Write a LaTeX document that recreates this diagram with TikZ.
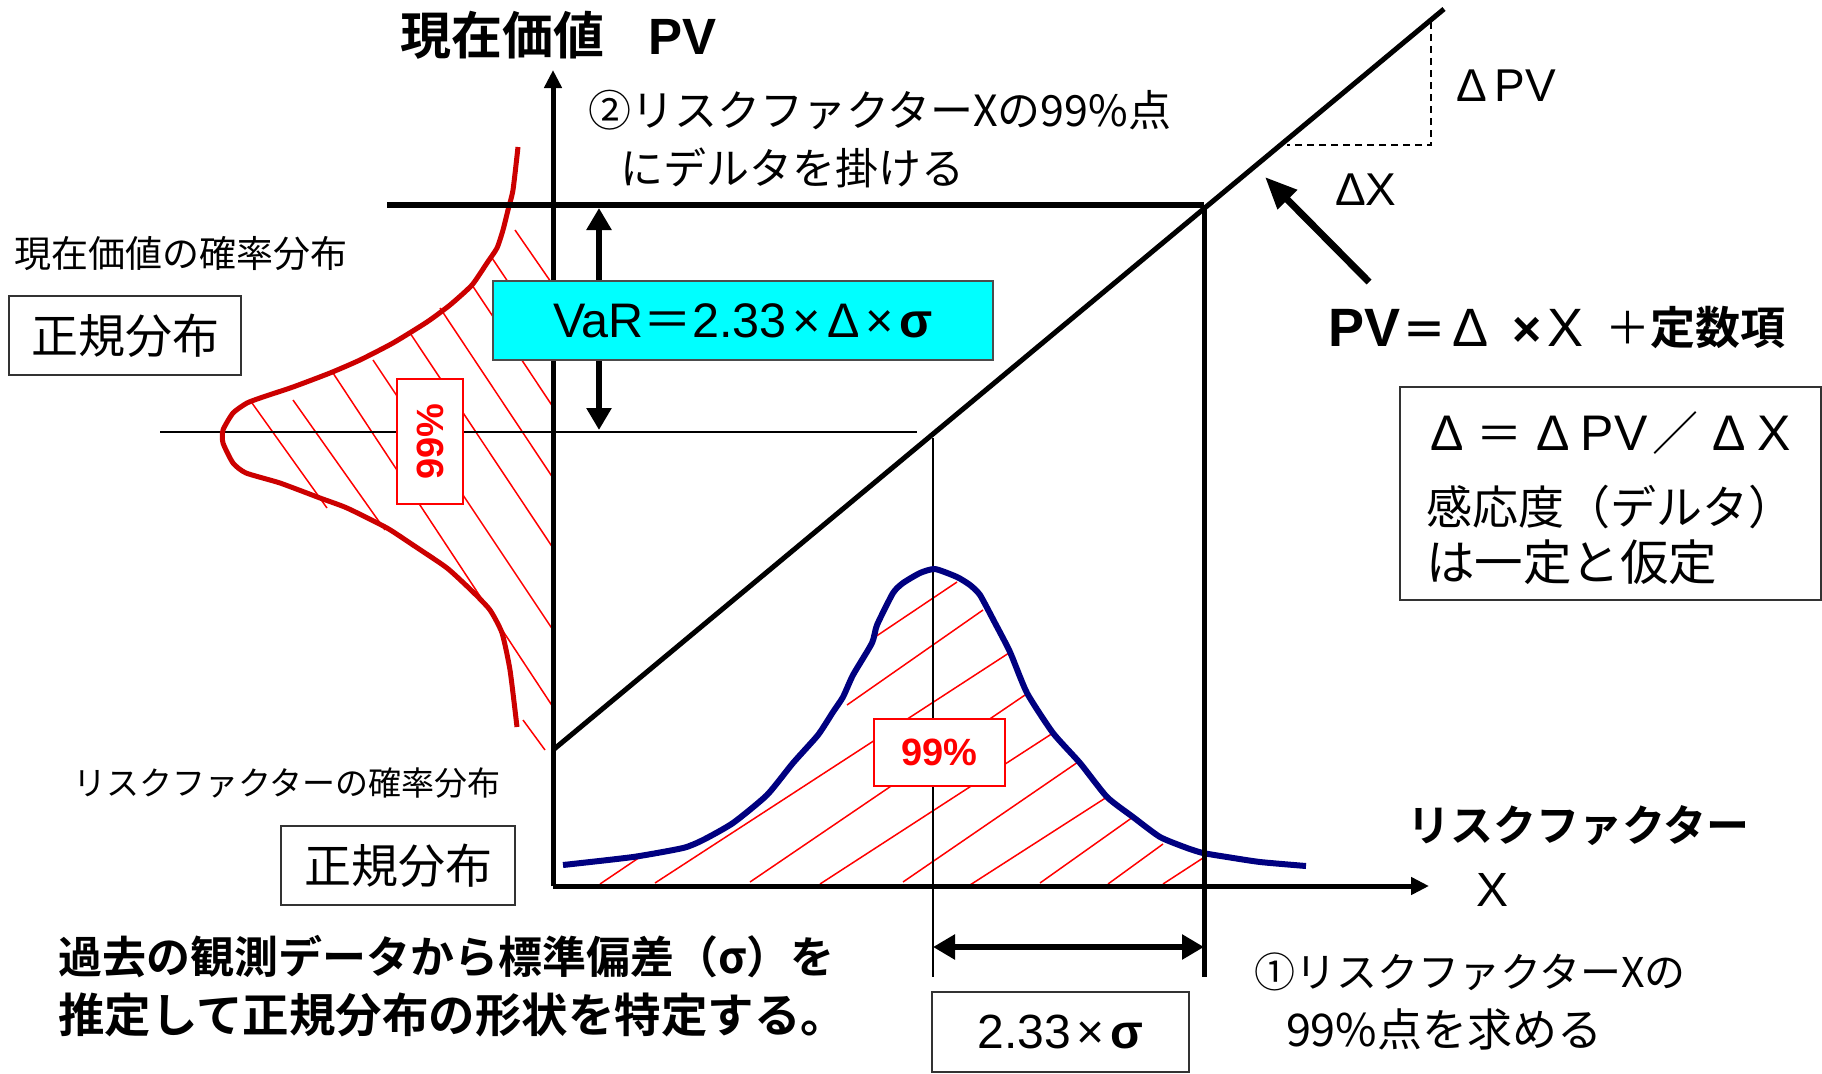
\documentclass[tikz,border=0pt]{standalone}
\usepackage{fontspec}
\setmainfont{Noto Sans CJK JP}[BoldFont={Noto Sans CJK JP Bold}]
\newfontfamily\lat{Liberation Sans}
\usetikzlibrary{arrows.meta}
\definecolor{curvered}{HTML}{CC0000}
\definecolor{navyblue}{HTML}{000080}
\definecolor{boxcyan}{HTML}{00FFFF}
\newcommand{\setfs}[1]{\fontsize{#1}{#1}\selectfont}
\begin{document}
\begin{tikzpicture}[x=1pt,y=-1pt,
  every node/.style={inner sep=0pt, outer sep=0pt},
  lbl/.style={anchor=west},
  axisline/.style={line width=5pt},
  thickline/.style={line width=6pt},
  thinline/.style={line width=2.5pt},
  hairline/.style={line width=1.5pt},
  dashline/.style={line width=1.5pt, dash pattern=on 7pt off 5pt},
  hatch/.style={red, line width=1.5pt},
  plainbox/.style={draw=black!80, line width=2pt, fill=white},
  redbox/.style={draw=red, line width=2pt, fill=white, text=red},
  tip/.style={-{Triangle[length=18pt,width=17pt]}},
  dtip/.style={{Triangle[length=22pt,width=24pt]}-{Triangle[length=22pt,width=24pt]}},
]
\useasboundingbox (0,0) rectangle (1822,1073);
\fill[white] (0,0) rectangle (1822,1073);

% ---------- left hatching (PV distribution) ----------
\foreach \a/\b in {{(515,230)}/{(553,285)},{(492,258)}/{(553,349)},{(472,285)}/{(553,407)},
  {(440,308)}/{(553,478)},{(410,333)}/{(553,548)},{(373,360)}/{(553,630)},{(333,373)}/{(553,707)},
  {(293,400)}/{(385,530)},{(252,403)}/{(327,508)},{(523,720)}/{(545,750)}}
  \draw[hatch] \a -- \b;

% ---------- bottom hatching (risk factor distribution) ----------
\foreach \a/\b in {{(600,884)}/{(640,857)},{(655,883)}/{(1012,651)},{(750,882)}/{(1025,695)},
  {(820,884)}/{(1053,733)},{(903,882)}/{(1078,762)},{(970,885)}/{(1107,797)},
  {(1040,883)}/{(1133,817)},{(1108,884)}/{(1163,844)},{(1163,884)}/{(1203,858)},
  {(847,705)}/{(983,610)},{(875,637)}/{(957,582)}}
  \draw[hatch] \a -- \b;

% ---------- coordinates ----------
\coordinate (O) at (553,886);
\coordinate (Ytop) at (553,70);
\coordinate (Xend) at (1429,886);
\coordinate (topL) at (387,205);
\coordinate (topR) at (1204,205);
\coordinate (rightB) at (1204,977);
\coordinate (midL) at (160,432);
\coordinate (midR) at (917,432);
\coordinate (vT) at (933,438);
\coordinate (vB) at (933,977);
\coordinate (dA) at (553,750);
\coordinate (dB) at (1444,9);
\coordinate (dashTop) at (1431,22);
\coordinate (dashCorner) at (1431,145);
\coordinate (dashLeft) at (1287,145);

% thin lines
\draw[thinline] (midL) -- (midR);
\draw[hairline] (vT) -- (vB);

% ---------- curves ----------
\draw[curvered, line width=5pt, line join=round, line cap=butt] plot[smooth, tension=0.35] coordinates {
 (518,147) (513,190) (508,210) (503,230) (497,248) (487,263) (472,285) (450,305) (427,322)
 (393,343) (360,360) (330,373) (293,387) (263,397) (247,403) (233,413) (223,430) (223,443)
 (233,463) (246,473) (280,483) (320,498) (347,508) (387,528) (413,545) (447,568) (473,592)
 (490,610) (502,633) (510,670) (517,727)};
\draw[navyblue, line width=6pt, line join=round] plot[smooth, tension=0.35] coordinates {
 (563,865) (633,857) (683,848) (703,840) (733,823) (767,795) (793,763) (818,735) (833,712)
 (843,697) (853,675) (872,643) (877,625) (893,593) (903,583) (920,573) (935,569) (957,577)
 (970,585) (980,595) (995,623) (1010,652) (1027,693) (1053,733) (1080,763) (1107,797)
 (1133,817) (1160,837) (1187,848) (1203,853) (1227,857) (1260,862) (1306,866)};

% ---------- axes and main lines ----------
\draw[axisline, tip] (O) -- (Ytop);
\draw[axisline, tip] (O) -- (Xend);
\draw[thickline] (topL) -- (topR);
\draw[axisline] (topR) -- (rightB);
\draw[axisline] (dA) -- (dB);
\draw[dashline] (dashTop) -- (dashCorner) -- (dashLeft);

% VaR arrow
\coordinate (varT) at (599,208);
\coordinate (varB) at (599,430);
\draw[thickline, dtip] (varT) -- (varB);

% 2.33 sigma arrow
\coordinate (sgL) at (933,947);
\coordinate (sgR) at (1204,947);
\draw[thickline, dtip] (sgL) -- (sgR);

% delta pointer arrow
\coordinate (pvArrowFrom) at (1369,282);
\coordinate (pvArrowTo) at (1265,177);
\draw[line width=7pt, -{Triangle[length=32pt,width=26pt]}] (pvArrowFrom) -- (pvArrowTo);

% ---------- boxes ----------
\node[draw=black!70, fill=boxcyan, line width=2pt, minimum width=500pt, minimum height=79pt,
  font=\lat\setfs{48.5}] (var) at (743,320.5)
  {VaR{\rmfamily ＝}2.33\hspace{6pt}×\hspace{6pt}Δ\hspace{6pt}×\hspace{6pt}{\bfseries σ}};
\node[redbox, rotate=90, minimum width=125pt, minimum height=66pt, font=\lat\bfseries\setfs{38}]
  (pv99) at (430,441.5) {99\%};
\node[redbox, minimum width=131pt, minimum height=67pt, font=\lat\bfseries\setfs{38}]
  (x99) at (939.5,752.5) {99\%};
\node[plainbox, minimum width=232pt, minimum height=79pt, font=\setfs{47}] (pvnorm) at (125,335.5) {正規分布};
\node[plainbox, minimum width=234pt, minimum height=79pt, font=\setfs{47}] (xnorm) at (398,865.5) {正規分布};
\node[plainbox, minimum width=257pt, minimum height=80pt, font=\lat\setfs{48}] (sigbox) at (1060.5,1032)
  {2.33\hspace{6pt}×\hspace{6pt}{\bfseries σ}};
\node[plainbox, minimum width=421pt, minimum height=213pt] (deltabox) at (1610.5,493.5) {};

% ---------- texts ----------
\node[lbl, font=\bfseries\setfs{51}] (title) at (400,35) {現在価値\hspace{44pt}{\lat PV}};
\node[lbl, font=\setfs{43}] (step2a) at (588,110) {②リスクファクターXの99\%点};
\node[lbl, font=\setfs{43}] (step2b) at (620,168) {にデルタを掛ける};
\node[lbl, font=\setfs{37}] (pvdist) at (14,254) {現在価値の確率分布};
\node[lbl, font=\setfs{33}] (xdist) at (73,783) {リスクファクターの確率分布};
\node[lbl, font=\bfseries\setfs{44}] (desc1) at (58,957) {過去の観測データから標準偏差（σ）を};
\node[lbl, font=\bfseries\setfs{46.5}] (desc2) at (58,1015) {推定して正規分布の形状を特定する。};
\node[lbl, font=\lat\setfs{46}] (dpv) at (1456,86) {Δ\,PV};
\node[lbl, font=\lat\setfs{46}] (dx) at (1335,190) {ΔX};
\node[lbl, font=\setfs{44}] (formula) at (1328,328)
  {{\lat\bfseries\setfs{54}PV}\hspace{2pt}{\bfseries ＝}\hspace{6pt}{\lat\setfs{54}Δ}\hspace{24pt}{\lat\bfseries\setfs{50}×}\hspace{6pt}{\lat\setfs{54}X}};
\node[lbl, font=\setfs{45}] (constterm) at (1605,328) {＋{\bfseries 定数項}};
\node[lbl, font=\setfs{46}] (dl1) at (1430,433)
  {{\lat\setfs{50}Δ}\hspace{13pt}＝\hspace{14pt}{\lat\setfs{50}Δ}\hspace{11pt}{\lat\setfs{50}PV}\hspace{5pt}／\hspace{14pt}{\lat\setfs{50}Δ}\hspace{12pt}{\lat\setfs{50}X}};
\node[lbl, font=\setfs{46}] (dl2) at (1426,507) {感応度（デルタ）};
\node[lbl, font=\setfs{48.5}] (dl3) at (1426,562) {は一定と仮定};
\node[lbl, font=\bfseries\setfs{43}] (xlabel) at (1407,826) {リスクファクター};
\node[font=\lat\setfs{48}] (xletter) at (1492,890) {X};
\node[lbl, font=\setfs{41}] (step1a) at (1254,972) {①リスクファクターXの};
\node[lbl, font=\setfs{45}] (step1b) at (1286,1029) {99\%点を求める};
\end{tikzpicture}
\end{document}
